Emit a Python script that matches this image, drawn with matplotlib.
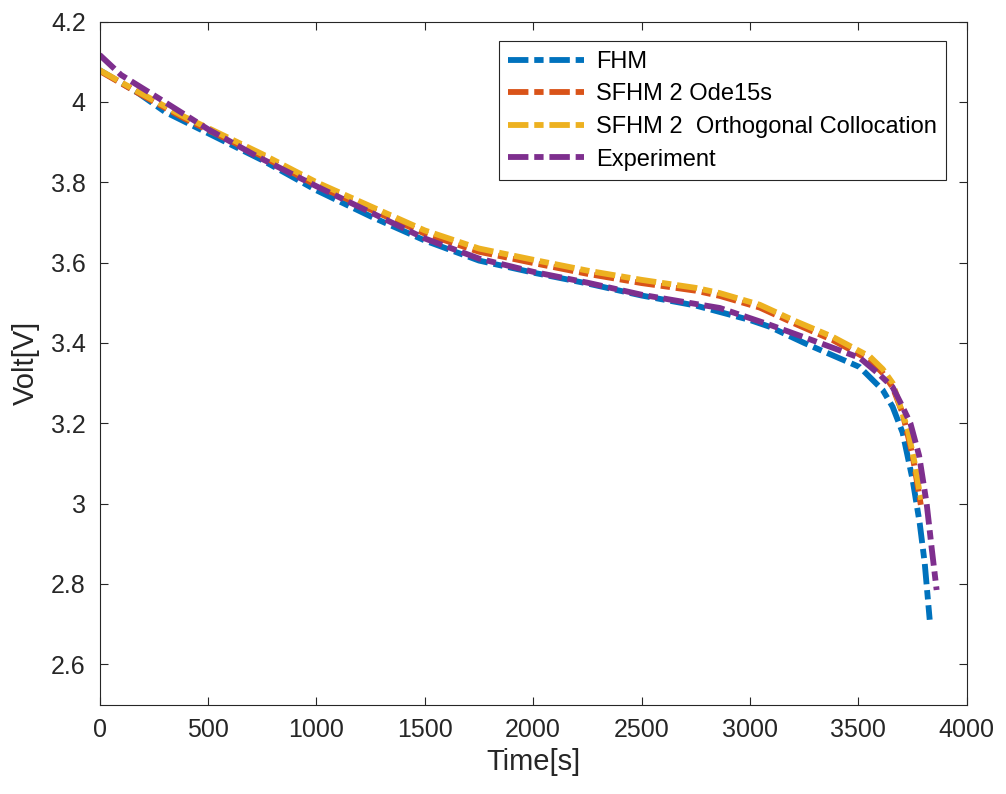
import matplotlib
matplotlib.use("Agg")
import matplotlib.pyplot as plt
from matplotlib.ticker import FuncFormatter

plt.rcParams["font.family"] = ["Liberation Sans", "DejaVu Sans"]

# FHM
t_fhm = [0, 178, 302, 500, 750, 1000, 1250, 1500, 1750, 2000, 2250, 2500, 2750, 3000,
         3092, 3250, 3322, 3506, 3612, 3658, 3704, 3750, 3783, 3806, 3829]
v_fhm = [4.079, 4.022, 3.975, 3.922, 3.855, 3.78, 3.715, 3.655, 3.605, 3.575, 3.548,
         3.518, 3.493, 3.457, 3.44, 3.40, 3.383, 3.34, 3.283, 3.241, 3.177, 3.06,
         2.951, 2.852, 2.711]

# SFHM 2 Ode15s
t_ode = [0, 178, 394, 500, 750, 1000, 1250, 1500, 1750, 2000, 2250, 2500, 2750, 2861,
         3045, 3215, 3382, 3553, 3612, 3658, 3704, 3750, 3788]
v_ode = [4.077, 4.022, 3.958, 3.93, 3.865, 3.792, 3.732, 3.672, 3.627, 3.599, 3.572,
         3.549, 3.53, 3.517, 3.488, 3.446, 3.407, 3.357, 3.325, 3.29, 3.225, 3.12, 2.997]

# SFHM 2 Orthogonal Collocation
t_oc = [0, 178, 394, 500, 750, 1000, 1250, 1500, 1750, 2000, 2250, 2500, 2750, 2861,
        3045, 3215, 3382, 3553, 3612, 3658, 3728, 3760, 3783, 3790]
v_oc = [4.079, 4.025, 3.962, 3.935, 3.87, 3.80, 3.74, 3.68, 3.635, 3.607, 3.58, 3.557,
        3.537, 3.524, 3.495, 3.453, 3.415, 3.366, 3.335, 3.30, 3.184, 3.10, 3.026, 3.01]

# Experiment
t_exp = [0, 99, 270, 500, 731, 1000, 1250, 1500, 1750, 2000, 2250, 2500, 2750, 2861,
         3092, 3322, 3506, 3600, 3658, 3700, 3740, 3780, 3815, 3838, 3861]
v_exp = [4.117, 4.067, 4.01, 3.932, 3.863, 3.79, 3.725, 3.66, 3.61, 3.577, 3.55, 3.52,
         3.497, 3.487, 3.445, 3.40, 3.363, 3.32, 3.29, 3.245, 3.20, 3.12, 3.0, 2.89, 2.785]

fig = plt.figure(figsize=(10.06, 7.94), dpi=100)
ax = fig.add_axes([0.099, 0.1127, 0.862, 0.8602])

ls = (0, (3.5, 1, 1.6, 1))
lw = 4.2
ax.plot(t_fhm, v_fhm, color="#0072BD", lw=lw, ls=ls, label="FHM")
ax.plot(t_ode, v_ode, color="#D95319", lw=lw, ls=ls, label="SFHM 2 Ode15s")
ax.plot(t_oc, v_oc, color="#EDB120", lw=lw, ls=ls, label="SFHM 2  Orthogonal Collocation")
ax.plot(t_exp, v_exp, color="#7E2F8E", lw=lw, ls=ls, label="Experiment")

ax.set_xlim(0, 4000)
ax.set_ylim(2.5, 4.2)
ax.set_xticks(range(0, 4001, 500))
ax.set_yticks([2.6, 2.8, 3.0, 3.2, 3.4, 3.6, 3.8, 4.0, 4.2])
ax.yaxis.set_major_formatter(FuncFormatter(lambda v, p: "%g" % round(v, 2)))
ax.tick_params(direction="in", top=True, right=True, length=6, width=0.8,
               labelsize=18, colors="#262626", pad=10)
for s in ax.spines.values():
    s.set_color("#262626")
    s.set_linewidth(0.8)

ax.set_xlabel("Time[s]", fontsize=21, color="#262626", labelpad=4)
ax.set_ylabel("Volt[V]", fontsize=21, color="#262626", labelpad=8)

leg = ax.legend(loc="upper right", bbox_to_anchor=(0.976, 0.971), fontsize=17,
                handlelength=3.2, fancybox=False, framealpha=1, edgecolor="#262626",
                borderaxespad=0, labelspacing=0.45, handletextpad=0.5)
leg.get_frame().set_linewidth(0.8)

fig.savefig("out.png", dpi=100)
